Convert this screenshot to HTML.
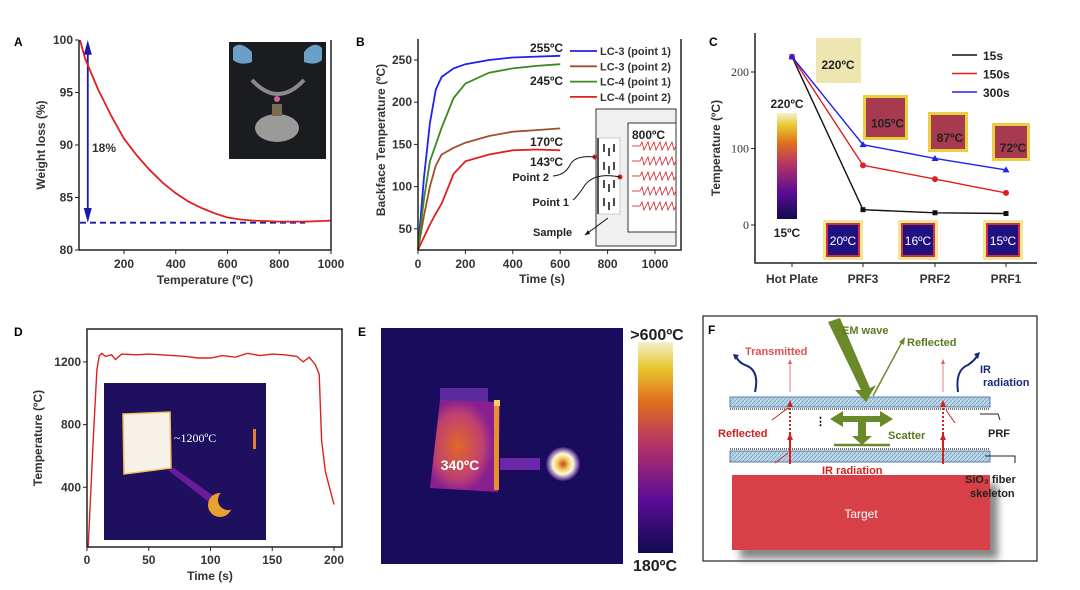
<!DOCTYPE html>
<html><head><meta charset="utf-8">
<style>
body{margin:0;background:#fff;}
svg{display:block;font-family:"Liberation Sans",Arial,sans-serif;}
.b{font-weight:bold;}
</style></head>
<body>
<svg id="fig" width="1080" height="590" viewBox="0 0 1080 590" xmlns="http://www.w3.org/2000/svg">
<defs>
<linearGradient id="inferno" x1="0" y1="1" x2="0" y2="0">
<stop offset="0" stop-color="#120a50"/><stop offset="0.25" stop-color="#5a0c96"/><stop offset="0.5" stop-color="#b0306a"/><stop offset="0.72" stop-color="#e0701e"/><stop offset="0.88" stop-color="#e8c830"/><stop offset="1" stop-color="#f4f0d0"/>
</linearGradient>
<pattern id="hatch" width="4" height="4" patternUnits="userSpaceOnUse"><rect width="4" height="4" fill="#b8d8e8"/><path d="M0 4L4 0" stroke="#6a90b0" stroke-width="0.6"/></pattern>
<radialGradient id="hotspot"><stop offset="0" stop-color="#d04020"/><stop offset="0.35" stop-color="#f0d060"/><stop offset="0.6" stop-color="#fff8e0"/><stop offset="1" stop-color="#3a1280"/></radialGradient>
<radialGradient id="blob" cx="0.4" cy="0.5"><stop offset="0" stop-color="#e06828"/><stop offset="0.7" stop-color="#c04070"/><stop offset="1" stop-color="#8a2090"/></radialGradient>
<filter id="sh"><feGaussianBlur stdDeviation="4"/></filter>
</defs>
<g id="root"></g>
</svg>
<script>
// ---------- Panel A data ----------
const aTemps = [30, 50, 100, 150, 200, 250, 300, 350, 400, 450, 500, 550, 600, 650, 700, 800, 900, 1000];
const aWeight = [100, 98.2, 95.3, 92.8, 90.6, 89.0, 87.6, 86.4, 85.4, 84.6, 84.0, 83.5, 83.1, 82.9, 82.8, 82.7, 82.7, 82.8];
const aXTicks = [200, 400, 600, 800, 1000];
const aYTicks = [80, 85, 90, 95, 100];
// ---------- Panel B data ----------
const bTime = [0, 25, 50, 75, 100, 150, 200, 300, 400, 500, 600];
const bLC3p1 = [25, 110, 175, 215, 230, 240, 245, 250, 253, 254, 255];
const bLC3p2 = [25, 65, 100, 125, 138, 146, 152, 160, 165, 167, 169];
const bLC4p1 = [25, 85, 130, 150, 170, 205, 222, 235, 240, 243, 245];
const bLC4p2 = [25, 40, 55, 68, 80, 115, 130, 138, 143, 144, 143];
const bSeriesNames = ["LC-3 (point 1)", "LC-3 (point 2)", "LC-4 (point 1)", "LC-4 (point 2)"];
const bXTicks = [0, 200, 400, 600, 800, 1000];
const bYTicks = [50, 100, 150, 200, 250];
// ---------- Panel C data ----------
const cCats = ["Hot Plate", "PRF3", "PRF2", "PRF1"];
const c15s = [220, 20, 16, 15];
const c150s = [220, 78, 60, 42];
const c300s = [220, 105, 87, 72];
const cSeriesNames = ["15s", "150s", "300s"];
const cYTicks = [0, 100, 200];
// ---------- Panel D data ----------
const dTime = [1, 5, 8, 10, 12, 15, 20, 23, 28, 40, 50, 60, 70, 80, 90, 100, 110, 120, 130, 140, 150, 160, 170, 175, 180, 185, 188, 190, 193, 197, 200];
const dTemp = [20, 700, 1150, 1240, 1255, 1235, 1245, 1215, 1250, 1245, 1250, 1245, 1240, 1235, 1225, 1225, 1240, 1230, 1255, 1240, 1250, 1245, 1235, 1200, 1230, 1180, 1120, 700, 500, 380, 290];
const dXTicks = [0, 50, 100, 150, 200];
const dYTicks = [400, 800, 1200];

const NS = "http://www.w3.org/2000/svg";
const root = document.getElementById("root");
function mk(tag, attrs, parent, txt) {
  const e = document.createElementNS(NS, tag);
  for (const k in attrs) e.setAttribute(k, attrs[k]);
  if (txt !== undefined) e.textContent = txt;
  (parent || root).appendChild(e);
  return e;
}
function lin(d0, d1, r0, r1) { return v => r0 + (v - d0) / (d1 - d0) * (r1 - r0); }
function pathD(xs, ys, sx, sy) { return xs.map((x, i) => (i ? "L" : "M") + sx(x).toFixed(1) + " " + sy(ys[i]).toFixed(1)).join(""); }
const TF = 12;

// ================= PANEL A =================
{
  const g = mk("g", {});
  
  
  const sx = lin(0, 1000, 72.25, 331), sy = lin(80, 100, 250, 40);
  const t = mk("text", {x: 14, y: 46, "font-size": 12, class: "b"}, g, "A");
   
  const ph = mk("rect", {x: 229, y: 42, width: 97, height: 117, fill: "#1a1c20"}, g);
   
  mk("path", {d: "M233 48 Q240 40 252 52 L252 62 Q240 66 233 60Z", fill: "#6aa0c8"}, g);
  mk("path", {d: "M322 48 Q314 40 304 52 L304 62 Q316 66 322 60Z", fill: "#6aa0c8"}, g);
  mk("path", {d: "M252 80 Q278 108 304 80", stroke: "#8a8a88", "stroke-width": 4, fill: "none"}, g);
  mk("circle", {cx: 277, cy: 99, r: 3, fill: "#d060a0"}, g);
  mk("ellipse", {cx: 277, cy: 128, rx: 22, ry: 14, fill: "#9a9a98"}, g);
  mk("rect", {x: 272, y: 104, width: 10, height: 12, fill: "#7a6a50"}, g);
  const ds = mk("line", {x1: sx(30), y1: sy(82.6), x2: sx(900), y2: sy(82.6), stroke: "#1a1aa8", "stroke-width": 1.8, "stroke-dasharray": "6 4"}, g);
   
  const ar = mk("line", {x1: sx(60), y1: sy(99.3), x2: sx(60), y2: sy(83.3), stroke: "#1a1aa8", "stroke-width": 1.8}, g);
   
  mk("path", {d: `M${sx(60)-4} ${sy(98.6)}L${sx(60)} ${sy(100)}L${sx(60)+4} ${sy(98.6)}Z`, fill: "#1a1aa8"}, g);
  mk("path", {d: `M${sx(60)-4} ${sy(84)}L${sx(60)} ${sy(82.6)}L${sx(60)+4} ${sy(84)}Z`, fill: "#1a1aa8"}, g);
  mk("text", {x: 92, y: 152, "font-size": 12, class: "b", fill: "#333"}, g, "18%");
  const c = mk("path", {d: pathD(aTemps, aWeight, sx, sy), stroke: "#e02020", "stroke-width": 1.8, fill: "none"}, g);
   
  const ax = mk("path", {d: "M79 40V250H331V40", stroke: "#222", "stroke-width": 1.5, fill: "none"}, g);
   
  aXTicks.forEach(v => { mk("line", {x1: sx(v), y1: 250, x2: sx(v), y2: 254, stroke: "#222"}, g); mk("text", {x: sx(v), y: 268, "font-size": TF, class: "b", "text-anchor": "middle", fill: "#333"}, g, v); });
  aYTicks.forEach(v => { mk("line", {x1: 75, y1: sy(v), x2: 79, y2: sy(v), stroke: "#222"}, g); mk("text", {x: 73, y: sy(v) + 4, "font-size": TF, class: "b", "text-anchor": "end", fill: "#333"}, g, v); });
  mk("text", {x: 205, y: 284, "font-size": 12, class: "b", "text-anchor": "middle", fill: "#333"}, g, "Temperature (ºC)");
  mk("text", {x: 0, y: 0, "font-size": 12, class: "b", "text-anchor": "middle", fill: "#333", transform: "translate(45 145) rotate(-90)"}, g, "Weight loss (%)");
}

// ================= PANEL B =================
{
  const g = mk("g", {});
  
  
  const sx = lin(0, 1000, 418, 655), sy = lin(0, 250, 271, 60);
  mk("text", {x: 356, y: 46, "font-size": 12, class: "b"}, g, "B");
  mk("rect", {x: 596, y: 109, width: 80, height: 137, fill: "#f0f0f0", stroke: "#333"}, g);
  mk("rect", {x: 628, y: 123, width: 48, height: 109, fill: "#fff", stroke: "#333"}, g);
  mk("rect", {x: 598, y: 138, width: 22, height: 76, fill: "#fff", stroke: "#ccc"}, g);
  mk("line", {x1: 598, y1: 138, x2: 598, y2: 214, stroke: "#555", "stroke-width": 2}, g);
  for (let r = 0; r < 4; r++) for (let cc = 0; cc < 3; cc++) mk("line", {x1: 604 + cc * 5, y1: 144 + r * 18 + (cc % 2) * 4, x2: 604 + cc * 5, y2: 152 + r * 18 + (cc % 2) * 4, stroke: "#111", "stroke-width": 1.5}, g);
  mk("text", {x: 632, y: 139, "font-size": 12, class: "b", fill: "#222"}, g, "800ºC");
  for (let r = 0; r < 5; r++) { const y = 146 + r * 15; let d = `M640 ${y}`; for (let k = 0; k < 6; k++) d += `l2 -4l2 8l2 -4`; mk("path", {d, stroke: "#d02020", fill: "none", "stroke-width": 0.8}, g); mk("line", {x1: 640, y1: y, x2: 632, y2: y, stroke: "#d02020", "stroke-width": 0.8}, g); }
  mk("circle", {cx: 595, cy: 157, r: 2.5, fill: "#d02020"}, g);
  mk("circle", {cx: 620, cy: 177, r: 2.5, fill: "#d02020"}, g);
  mk("path", {d: "M595 157 Q575 155 570 165 Q565 175 553 176", stroke: "#111", fill: "none"}, g);
  mk("path", {d: "M620 177 Q595 172 585 185 Q578 196 573 200", stroke: "#111", fill: "none"}, g);
  mk("path", {d: "M608 218 L585 235", stroke: "#111", fill: "none"}, g);
  mk("path", {d: "M585 235l5 -1l-2 -4z", fill: "#111"}, g);
  mk("text", {x: 549, y: 181, "font-size": 11, class: "b", "text-anchor": "end", fill: "#222"}, g, "Point 2");
  mk("text", {x: 569, y: 206, "font-size": 11, class: "b", "text-anchor": "end", fill: "#222"}, g, "Point 1");
  mk("text", {x: 533, y: 236, "font-size": 11, class: "b", fill: "#222"}, g, "Sample");
  const series = [bLC3p1, bLC3p2, bLC4p1, bLC4p2], cols = ["#2020f0", "#a0502a", "#3a8a20", "#e02020"];
  series.forEach((s, i) => {
    const p = mk("path", {d: pathD(bTime, s, sx, sy), stroke: cols[i], "stroke-width": 1.8, fill: "none"}, g);
    
    
    const ly = 51 + i * 15.3;
    mk("line", {x1: 570, y1: ly, x2: 597, y2: ly, stroke: cols[i], "stroke-width": 1.8}, g);
    const lt = mk("text", {x: 600, y: ly + 4, "font-size": 11, class: "b", fill: "#333"}, g, bSeriesNames[i]);
     
  });
  mk("text", {x: 530, y: 52, "font-size": 12, class: "b", fill: "#222"}, g, "255ºC");
  mk("text", {x: 530, y: 85, "font-size": 12, class: "b", fill: "#222"}, g, "245ºC");
  mk("text", {x: 530, y: 146, "font-size": 12, class: "b", fill: "#222"}, g, "170ºC");
  mk("text", {x: 530, y: 166, "font-size": 12, class: "b", fill: "#222"}, g, "143ºC");
  mk("path", {d: "M418 39V250H681V39", stroke: "#222", "stroke-width": 1.5, fill: "none"}, g);
  bXTicks.forEach(v => { mk("line", {x1: sx(v), y1: 250, x2: sx(v), y2: 254, stroke: "#222"}, g); mk("text", {x: sx(v), y: 268, "font-size": TF, class: "b", "text-anchor": "middle", fill: "#333"}, g, v); });
  bYTicks.forEach(v => { mk("line", {x1: 414, y1: sy(v), x2: 418, y2: sy(v), stroke: "#222"}, g); mk("text", {x: 412, y: sy(v) + 4, "font-size": TF, class: "b", "text-anchor": "end", fill: "#333"}, g, v); });
  mk("text", {x: 542, y: 283, "font-size": 12, class: "b", "text-anchor": "middle", fill: "#333"}, g, "Time (s)");
  mk("text", {x: 0, y: 0, "font-size": 12, class: "b", "text-anchor": "middle", fill: "#333", transform: "translate(385 140) rotate(-90)"}, g, "Backface Temperature (ºC)");
}

// ================= PANEL C =================
{
  const g = mk("g", {});
  
  
  const catX = [792, 863, 935, 1006];
  const sx = i => catX[i], sy = lin(0, 200, 225, 72);
  mk("text", {x: 709, y: 46, "font-size": 12, class: "b"}, g, "C");
  mk("rect", {x: 816, y: 38, width: 45, height: 45, fill: "#eee6b0"}, g);
  mk("text", {x: 838, y: 69, "font-size": 12, class: "b", "text-anchor": "middle", fill: "#222"}, g, "220ºC");
  [[863, 95, 45, "105ºC"], [928, 112, 40, "87ºC"], [992, 123, 38, "72ºC"]].forEach(a => {
    mk("rect", {x: a[0], y: a[1], width: a[2], height: a[2], fill: "#e8d040"}, g);
    mk("rect", {x: a[0] + 3, y: a[1] + 3, width: a[2] - 6, height: a[2] - 6, fill: "#a83a50"}, g);
    mk("text", {x: a[0] + a[2] / 2 + 2, y: a[1] + a[2] / 2 + 10, "font-size": 12, class: "b", "text-anchor": "middle", fill: "#222"}, g, a[3]);
  });
  [[823, "20ºC"], [898, "16ºC"], [983, "15ºC"]].forEach(a => {
    mk("rect", {x: a[0], y: 220, width: 40, height: 40, fill: "#f0e890"}, g);
    mk("rect", {x: a[0] + 3, y: 223, width: 34, height: 34, fill: "#d03040"}, g);
    mk("rect", {x: a[0] + 5, y: 225, width: 30, height: 30, fill: "#201080"}, g);
    mk("text", {x: a[0] + 20, y: 245, "font-size": 12, "text-anchor": "middle", fill: "#fff"}, g, a[1]);
  });
  const cb = mk("rect", {x: 777, y: 113, width: 20, height: 106, fill: "url(#inferno)"}, g);
   
  mk("text", {x: 787, y: 108, "font-size": 12, class: "b", "text-anchor": "middle", fill: "#222"}, g, "220ºC");
  mk("text", {x: 787, y: 237, "font-size": 12, class: "b", "text-anchor": "middle", fill: "#222"}, g, "15ºC");
  const series = [c15s, c150s, c300s], cols = ["#111", "#e02020", "#2020f0"];
  series.forEach((s, si) => {
    const p = mk("path", {d: s.map((v, i) => (i ? "L" : "M") + sx(i) + " " + sy(v).toFixed(1)).join(""), stroke: cols[si], "stroke-width": 1.4, fill: "none"}, g);
    
    
    s.forEach((v, i) => {
      let m;
      if (si === 0) m = mk("rect", {x: sx(i) - 2.5, y: sy(v) - 2.5, width: 5, height: 5, fill: cols[si]}, g);
      else if (si === 1) m = mk("circle", {cx: sx(i), cy: sy(v), r: 3, fill: cols[si]}, g);
      else m = mk("path", {d: `M${sx(i)} ${sy(v) - 3.5}l3.5 6h-7z`, fill: cols[si]}, g);
      
      
    });
    const ly = 55 + si * 18.5;
    mk("line", {x1: 952, y1: ly, x2: 977, y2: ly, stroke: cols[si], "stroke-width": 1.4}, g);
    const lt = mk("text", {x: 983, y: ly + 5, "font-size": 12, class: "b", fill: "#222"}, g, cSeriesNames[si]);
     
  });
  mk("path", {d: "M755 33V263H1037", stroke: "#222", "stroke-width": 1.5, fill: "none"}, g);
  cYTicks.forEach(v => { mk("line", {x1: 751, y1: sy(v), x2: 755, y2: sy(v), stroke: "#222"}, g); mk("text", {x: 749, y: sy(v) + 4, "font-size": 12, "font-family": "Liberation Serif, serif", "text-anchor": "end", fill: "#333"}, g, v); });
  cCats.forEach((c, i) => { mk("line", {x1: sx(i), y1: 263, x2: sx(i), y2: 267, stroke: "#222"}, g); mk("text", {x: sx(i), y: 283, "font-size": 12, class: "b", "text-anchor": "middle", fill: "#333"}, g, c); });
  mk("text", {x: 0, y: 0, "font-size": 12, class: "b", "text-anchor": "middle", fill: "#333", transform: "translate(720 148) rotate(-90)"}, g, "Temperature (ºC)");
}

// ================= PANEL D =================
{
  const g = mk("g", {});
  
  
  const sx = lin(0, 200, 87, 334), sy = lin(0, 400, 550, 487.3);
  mk("text", {x: 14, y: 336, "font-size": 12, class: "b"}, g, "D");
  const im = mk("rect", {x: 104, y: 383, width: 162, height: 157, fill: "#1e105e"}, g);
   
  mk("path", {d: "M168 470 L174 468 L215 497 L210 503Z", fill: "#6a1c9a"}, g);
  mk("circle", {cx: 220, cy: 505, r: 12, fill: "#e8a030"}, g);
  mk("circle", {cx: 228, cy: 500, r: 10, fill: "#1e105e"}, g);
  mk("path", {d: "M123 414 L170 412 L171 468 L124 474Z", fill: "#f6f2e8", stroke: "#f0c060", "stroke-width": 1.5}, g);
  mk("rect", {x: 253, y: 429, width: 3, height: 20, fill: "#e08030"}, g);
  mk("text", {x: 174, y: 442, "font-size": 12, "font-family": "Liberation Serif, serif", fill: "#fff"}, g, "~1200ºC");
  const c = mk("path", {d: pathD(dTime, dTemp, sx, sy), stroke: "#e02020", "stroke-width": 1.4, fill: "none"}, g);
   
  mk("path", {d: "M87 329V547H342V329Z", stroke: "#222", "stroke-width": 1.5, fill: "none"}, g);
  dXTicks.forEach(v => { mk("line", {x1: sx(v), y1: 547, x2: sx(v), y2: 551, stroke: "#222"}, g); mk("text", {x: sx(v), y: 564, "font-size": TF, class: "b", "text-anchor": "middle", fill: "#333"}, g, v); });
  dYTicks.forEach(v => { mk("line", {x1: 83, y1: sy(v), x2: 87, y2: sy(v), stroke: "#222"}, g); mk("text", {x: 81, y: sy(v) + 4, "font-size": TF, class: "b", "text-anchor": "end", fill: "#333"}, g, v); });
  mk("text", {x: 210, y: 580, "font-size": 12, class: "b", "text-anchor": "middle", fill: "#333"}, g, "Time (s)");
  mk("text", {x: 0, y: 0, "font-size": 12, class: "b", "text-anchor": "middle", fill: "#333", transform: "translate(42 438) rotate(-90)"}, g, "Temperature (ºC)");
}

// ================= PANEL E =================
{
  const g = mk("g", {});
  
  
  mk("text", {x: 358, y: 336, "font-size": 12, class: "b"}, g, "E");
  const im = mk("rect", {x: 381, y: 328, width: 242, height: 236, fill: "#1a0c5c"}, g);
   
  mk("rect", {x: 440, y: 388, width: 48, height: 20, fill: "#5a2aa0"}, g);
  mk("path", {d: "M440 400 L500 402 L498 492 L430 488Z", fill: "url(#blob)"}, g);
  mk("rect", {x: 494, y: 400, width: 5, height: 90, fill: "#e89030"}, g);
  mk("rect", {x: 494, y: 400, width: 6, height: 6, fill: "#f0d070"}, g);
  mk("rect", {x: 500, y: 458, width: 40, height: 12, fill: "#6a28a8"}, g);
  mk("circle", {cx: 563, cy: 464, r: 17, fill: "url(#hotspot)"}, g);
  mk("text", {x: 460, y: 470, "font-size": 14, class: "b", "text-anchor": "middle", fill: "#fff"}, g, "340ºC");
  const cb = mk("rect", {x: 638, y: 342, width: 35, height: 211, fill: "url(#inferno)"}, g);
   
  mk("text", {x: 657, y: 340, "font-size": 16, class: "b", "text-anchor": "middle", fill: "#222"}, g, ">600ºC");
  mk("text", {x: 655, y: 571, "font-size": 16, class: "b", "text-anchor": "middle", fill: "#222"}, g, "180ºC");
}

// ================= PANEL F =================
{
  const g = mk("g", {});
  
  
  mk("rect", {x: 703, y: 316, width: 334, height: 245, fill: "#fff", stroke: "#222", "stroke-width": 1.2}, g);
  mk("text", {x: 708, y: 334, "font-size": 12, class: "b"}, g, "F");
  mk("rect", {x: 740, y: 484, width: 258, height: 75, fill: "#555", filter: "url(#sh)", opacity: 0.7}, g);
  const tg = mk("rect", {x: 732, y: 475, width: 258, height: 75, fill: "#d84048"}, g);
   
  mk("text", {x: 861, y: 518, "font-size": 12, "text-anchor": "middle", fill: "#fff"}, g, "Target");
  mk("rect", {x: 730, y: 397, width: 260, height: 10, fill: "url(#hatch)", stroke: "#4060a0", "stroke-width": 0.8}, g);
  mk("rect", {x: 730, y: 451, width: 260, height: 11, fill: "url(#hatch)", stroke: "#4060a0", "stroke-width": 0.8}, g);
  mk("line", {x1: 730, y1: 409, x2: 990, y2: 409, stroke: "#444", "stroke-width": 1.5, "stroke-dasharray": "1 1"}, g);
  mk("line", {x1: 730, y1: 449, x2: 990, y2: 449, stroke: "#444", "stroke-width": 1.5, "stroke-dasharray": "1 1"}, g);
  mk("path", {d: "M828 322 L840 318 L870 388 L876 385 L866 402 L855 390 L861 390Z", fill: "#6a8a2a"}, g);
  mk("line", {x1: 873, y1: 396, x2: 902, y2: 342, stroke: "#6a8a2a", "stroke-width": 1.5}, g);
  mk("path", {d: "M905 337 l-1 8 l-5 -3z", fill: "#6a8a2a"}, g);
  mk("text", {x: 842, y: 334, "font-size": 11, class: "b", fill: "#5a7a20"}, g, "EM wave");
  mk("text", {x: 907, y: 346, "font-size": 11, class: "b", fill: "#5a7a20"}, g, "Reflected");
  mk("path", {d: "M830 419 L843 411 L843 416 L880 416 L880 411 L893 419 L880 427 L880 422 L843 422 L843 427Z", fill: "#6a8a2a"}, g);
  mk("rect", {x: 858, y: 421, width: 8, height: 16, fill: "#6a8a2a"}, g);
  mk("path", {d: "M852 436 L872 436 L862 445Z", fill: "#6a8a2a"}, g);
  mk("line", {x1: 834, y1: 445, x2: 890, y2: 445, stroke: "#6a8a2a", "stroke-width": 2.5}, g);
  mk("text", {x: 888, y: 439, "font-size": 11, class: "b", fill: "#5a7a20"}, g, "Scatter");
  mk("text", {x: 815, y: 425, "font-size": 11, class: "b"}, g, "⋮");
  [790, 943].forEach(x => {
    mk("line", {x1: x, y1: 464, x2: x, y2: 432, stroke: "#d02020", "stroke-width": 2}, g);
    mk("line", {x1: x, y1: 430, x2: x, y2: 405, stroke: "#d02020", "stroke-width": 2, "stroke-dasharray": "2 2"}, g);
    mk("path", {d: `M${x - 3} 440l3 -7l3 7z M${x - 3} 407l3 -7l3 7z`, fill: "#d02020"}, g);
    mk("line", {x1: x, y1: 392, x2: x, y2: 362, stroke: "#e06060", "stroke-width": 0.8}, g);
    mk("path", {d: `M${x - 2} 364l2 -5l2 5z`, fill: "#e06060"}, g);
  });
  mk("line", {x1: 788, y1: 408, x2: 772, y2: 420, stroke: "#d02020"}, g);
  mk("line", {x1: 788, y1: 453, x2: 775, y2: 463, stroke: "#d02020"}, g);
  mk("line", {x1: 946, y1: 410, x2: 955, y2: 423, stroke: "#d02020"}, g);
  mk("path", {d: "M755 392 Q760 370 745 365 Q738 362 736 356", stroke: "#1a2a7a", "stroke-width": 2, fill: "none"}, g);
  mk("path", {d: "M733 354l6 1l-4 5z", fill: "#1a2a7a"}, g);
  mk("path", {d: "M958 392 Q955 370 968 365 Q975 360 977 356", stroke: "#1a2a7a", "stroke-width": 2, fill: "none"}, g);
  mk("path", {d: "M980 352l-6 2l4 5z", fill: "#1a2a7a"}, g);
  mk("text", {x: 745, y: 355, "font-size": 11, class: "b", fill: "#e05050"}, g, "Transmitted");
  mk("text", {x: 980, y: 373, "font-size": 11, class: "b", fill: "#1a2a7a"}, g, "IR");
  mk("text", {x: 983, y: 386, "font-size": 11, class: "b", fill: "#1a2a7a"}, g, "radiation");
  mk("text", {x: 718, y: 437, "font-size": 11, class: "b", fill: "#d02020"}, g, "Reflected");
  mk("text", {x: 822, y: 474, "font-size": 11, class: "b", fill: "#d02020"}, g, "IR radiation");
  mk("text", {x: 988, y: 437, "font-size": 11, class: "b", fill: "#222"}, g, "PRF");
  mk("path", {d: "M980 414 L998 414 L1000 420", stroke: "#222", fill: "none"}, g);
  mk("path", {d: "M985 456 L1015 456 L1015 463", stroke: "#222", fill: "none"}, g);
  mk("text", {x: 965, y: 483, "font-size": 11, class: "b", fill: "#222"}, g, "SiO₂ fiber");
  mk("text", {x: 970, y: 497, "font-size": 11, class: "b", fill: "#222"}, g, "skeleton");
}
</script>
</body></html>
